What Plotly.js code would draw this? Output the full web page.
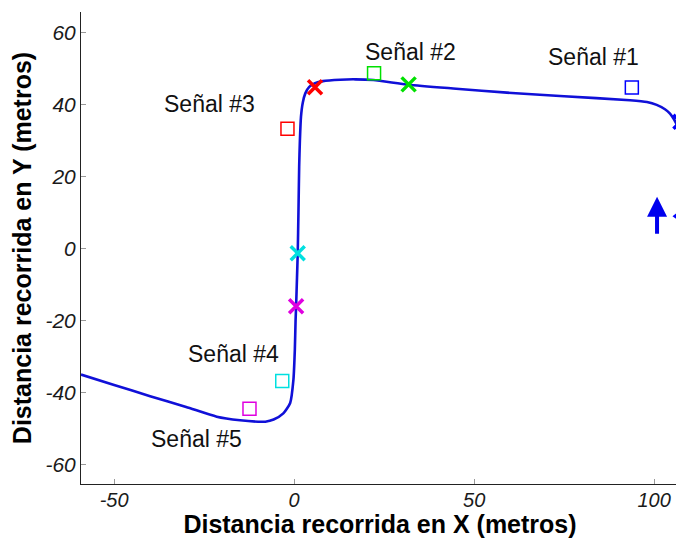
<!DOCTYPE html>
<html>
<head>
<meta charset="utf-8">
<script src="https://cdn.plot.ly/plotly-3.0.1.min.js"></script>
<style>
html, body { margin:0; padding:0; overflow:hidden; background:#fff; }
#chart { width:680px; height:538px; }
</style>
</head>
<body>
<div id="chart"></div>
<script>
// Trajectory (metres)
const pathX = [-59.2, -50, -40, -30, -21.5, -15, -10, -8, -5.7, -3, -1.1, -0.2, 0.2, 0.4, 0.55, 0.8, 1.0, 1.2, 1.4, 1.6, 1.9, 2.4, 3.1, 4.2, 5.8, 8, 12.8, 17, 22, 31.8, 45, 59.1, 75, 93.3, 98, 100.7, 103, 104.4, 105.5, 106.5, 107.5];
const pathY = [-35.0, -37.9, -41.0, -44.0, -46.7, -47.7, -48.1, -48.1, -47.5, -45.8, -42.9, -36.5, -28, -20, -16, -8, -1.3, 10, 22.7, 30, 36.6, 40.5, 43.1, 44.9, 45.9, 46.5, 46.9, 47.0, 46.8, 45.5, 44.4, 43.3, 42.3, 41.2, 40.7, 39.9, 38.7, 37.5, 35.9, 34.0, 32.0];

// Signals
const signalNames = ["Señal #1", "Señal #2", "Señal #3", "Señal #4", "Señal #5"];
const signalColors = ["#0000ff", "#00e000", "#ff0000", "#00e0e0", "#e000e0"];
const squareX = [93.8, 22.2, -1.85, -3.3, -12.4];
const squareY = [44.7, 48.7, 33.3, -36.8, -44.5];
const crossX = [107.3, 31.8, 5.8, 1.0, 0.55];
const crossY = [35.2, 45.6, 44.8, -1.3, -16.0];
const labelX = [83.1, 32.4, -23.5, -16.9, -27.2];
const labelY = [53.3, 54.6, 40.2, -29.4, -52.8];

// Direction arrow
const arrowFromX = [100.8], arrowFromY = [3.7];
const arrowToX = [100.8], arrowToY = [14.4];

// Axis ticks
const xTicks = [-50, 0, 50, 100];
const yTicks = [-60, -40, -20, 0, 20, 40, 60];

const traces = [{
  x: pathX, y: pathY, mode: 'lines', type: 'scatter',
  line: {color: '#1010d8', width: 2.6, shape: 'spline', smoothing: 0.6},
  hoverinfo: 'skip', showlegend: false
}];
signalNames.forEach((n, i) => {
  traces.push({
    x: [squareX[i]], y: [squareY[i]], mode: 'markers', type: 'scatter',
    marker: {symbol: 'square-open', size: 13, color: signalColors[i], line: {width: 1.5, color: signalColors[i]}},
    showlegend: false, hoverinfo: 'skip'
  });
  traces.push({
    x: [crossX[i]], y: [crossY[i]], mode: 'markers', type: 'scatter',
    marker: {symbol: 'x-thin-open', size: 14, color: signalColors[i], line: {width: 3.5, color: signalColors[i]}},
    showlegend: false, hoverinfo: 'skip'
  });
});
traces.push({
  x: [106.2], y: [9.0], mode: 'markers', type: 'scatter',
  marker: {symbol: 'triangle-left', size: 8, color: '#0000ff'},
  showlegend: false, hoverinfo: 'skip'
});

const annotations = signalNames.map((n, i) => ({
  x: labelX[i], y: labelY[i], xref: 'x', yref: 'y', text: n, showarrow: false,
  xanchor: 'center', yanchor: 'middle',
  font: {family: 'Liberation Sans, Arial, sans-serif', size: 23, color: '#111'}
}));
annotations.push({
  x: arrowToX[0], y: arrowToY[0], ax: arrowFromX[0], ay: arrowFromY[0],
  xref: 'x', yref: 'y', axref: 'x', ayref: 'y', text: '', showarrow: true,
  arrowhead: 2, arrowsize: 1, arrowwidth: 4, arrowcolor: '#0000ee'
});

const tickFont = {family: 'Liberation Sans, Arial, sans-serif', size: 21, color: '#1a1a1a', style: 'italic'};
const xTickFont = {family: 'Liberation Sans, Arial, sans-serif', size: 20, color: '#1a1a1a', style: 'italic'};
const titleFont = {family: 'Liberation Sans, Arial, sans-serif', size: 25, color: '#000', weight: 'bold'};

const layout = {
  width: 680, height: 538,
  margin: {l: 81, r: 1, t: 12, b: 54, pad: 0},
  paper_bgcolor: '#fff', plot_bgcolor: '#fff',
  xaxis: {
    range: [-59.2, 106.9], tickvals: xTicks, ticktext: xTicks.map(String),
    ticks: 'inside', ticklen: 5, tickcolor: '#999', tickwidth: 1,
    showline: true, linecolor: '#222', linewidth: 1, mirror: false,
    showgrid: false, zeroline: false, tickfont: xTickFont, ticklabelstandoff: -2,
    title: {text: 'Distancia recorrida en X (metros)', font: titleFont, standoff: 6}
  },
  yaxis: {
    range: [-65.4, 65.7], tickvals: yTicks, ticktext: yTicks.map(String),
    ticks: 'inside', ticklen: 5, tickcolor: '#999', tickwidth: 1,
    showline: true, linecolor: '#222', linewidth: 1, mirror: false,
    showgrid: false, zeroline: false, tickfont: tickFont,
    title: {text: 'Distancia recorrida en Y (metros)', font: titleFont, standoff: 6}
  },
  annotations: annotations
};

Plotly.newPlot('chart', traces, layout, {displayModeBar: false, staticPlot: true});
</script>
</body>
</html>
